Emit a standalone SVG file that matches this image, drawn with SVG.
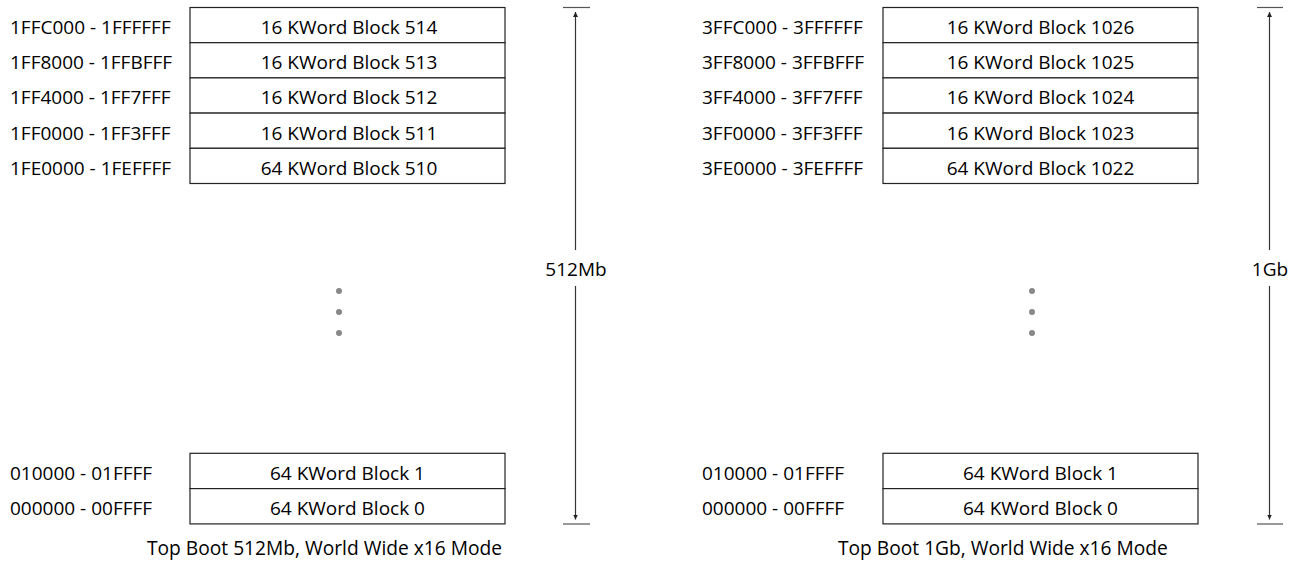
<svg xmlns="http://www.w3.org/2000/svg" width="1293" height="569" viewBox="0 0 1293 569">
  <style>
    text { font-family: "Open Sans", "Noto Sans", "Liberation Sans", sans-serif; font-size: 19px; fill: #000; }
    .c { text-anchor: middle; }
    .cap { font-size: 19.2px; }
    .box { fill: #fff; stroke: #222; stroke-width: 1.2; }
    .dim { stroke: #333; stroke-width: 1.2; fill: none; }
    .tick { stroke: #555; stroke-width: 1.2; }
    .dot { fill: #888; }
  </style>
  <defs>
    <marker id="ah" viewBox="0 0 10 10" refX="10" refY="5" markerWidth="5" markerHeight="9" orient="auto-start-reverse" markerUnits="userSpaceOnUse">
      <path d="M0,0 L10,5 L0,10 z" fill="#222"/>
    </marker>
  </defs>
  <rect width="1293" height="569" fill="#fff"/>

  <!-- Left map: 512Mb -->
  <g id="left-map">
    <g id="l-b514"><rect class="box" x="190" y="7.5" width="315" height="35.2"/><text x="10" y="34">1FFC000 - 1FFFFFF</text><text class="c" x="349" y="34">16 KWord Block 514</text></g>
    <g id="l-b513"><rect class="box" x="190" y="42.7" width="315" height="35.2"/><text x="10" y="69.2">1FF8000 - 1FFBFFF</text><text class="c" x="349" y="69.2">16 KWord Block 513</text></g>
    <g id="l-b512"><rect class="box" x="190" y="77.9" width="315" height="35.2"/><text x="10" y="104.4">1FF4000 - 1FF7FFF</text><text class="c" x="349" y="104.4">16 KWord Block 512</text></g>
    <g id="l-b511"><rect class="box" x="190" y="113.1" width="315" height="35.2"/><text x="10" y="139.6">1FF0000 - 1FF3FFF</text><text class="c" x="349" y="139.6">16 KWord Block 511</text></g>
    <g id="l-b510"><rect class="box" x="190" y="148.3" width="315" height="35.2"/><text x="10" y="174.8">1FE0000 - 1FEFFFF</text><text class="c" x="349" y="174.8">64 KWord Block 510</text></g>
    <g id="l-dots"><circle class="dot" cx="339" cy="291" r="3"/><circle class="dot" cx="339" cy="312" r="3"/><circle class="dot" cx="339" cy="333" r="3"/></g>
    <g id="l-b1"><rect class="box" x="190" y="453.3" width="315" height="35.3"/><text x="10" y="480">010000 - 01FFFF</text><text class="c" x="347.5" y="480">64 KWord Block 1</text></g>
    <g id="l-b0"><rect class="box" x="190" y="488.6" width="315" height="35.3"/><text x="10" y="515.3">000000 - 00FFFF</text><text class="c" x="347.5" y="515.3">64 KWord Block 0</text></g>
    <g id="l-size"><text class="c" x="576" y="276">512Mb</text></g>
    <text id="l-caption" class="cap" x="147" y="555">Top Boot 512Mb, World Wide x16 Mode</text>
  </g>

  <!-- Right map: 1Gb -->
  <g id="right-map">
    <g id="r-b1026"><rect class="box" x="883" y="7.5" width="315" height="35.2"/><text x="702" y="34">3FFC000 - 3FFFFFF</text><text class="c" x="1040.5" y="34">16 KWord Block 1026</text></g>
    <g id="r-b1025"><rect class="box" x="883" y="42.7" width="315" height="35.2"/><text x="702" y="69.2">3FF8000 - 3FFBFFF</text><text class="c" x="1040.5" y="69.2">16 KWord Block 1025</text></g>
    <g id="r-b1024"><rect class="box" x="883" y="77.9" width="315" height="35.2"/><text x="702" y="104.4">3FF4000 - 3FF7FFF</text><text class="c" x="1040.5" y="104.4">16 KWord Block 1024</text></g>
    <g id="r-b1023"><rect class="box" x="883" y="113.1" width="315" height="35.2"/><text x="702" y="139.6">3FF0000 - 3FF3FFF</text><text class="c" x="1040.5" y="139.6">16 KWord Block 1023</text></g>
    <g id="r-b1022"><rect class="box" x="883" y="148.3" width="315" height="35.2"/><text x="702" y="174.8">3FE0000 - 3FEFFFF</text><text class="c" x="1040.5" y="174.8">64 KWord Block 1022</text></g>
    <g id="r-dots"><circle class="dot" cx="1032" cy="291" r="3"/><circle class="dot" cx="1032" cy="312" r="3"/><circle class="dot" cx="1032" cy="333" r="3"/></g>
    <g id="r-b1"><rect class="box" x="883" y="453.3" width="315" height="35.3"/><text x="702" y="480">010000 - 01FFFF</text><text class="c" x="1040.5" y="480">64 KWord Block 1</text></g>
    <g id="r-b0"><rect class="box" x="883" y="488.6" width="315" height="35.3"/><text x="702" y="515.3">000000 - 00FFFF</text><text class="c" x="1040.5" y="515.3">64 KWord Block 0</text></g>
    <g id="r-size"><text class="c" x="1270" y="276">1Gb</text></g>
    <text id="r-caption" class="cap" x="838" y="555">Top Boot 1Gb, World Wide x16 Mode</text>
  </g>

  <!-- Dimension connectors -->
  <g id="connectors">
    <line class="tick" x1="563" y1="7.5" x2="590" y2="7.5"/>
    <line class="tick" x1="563" y1="524" x2="590" y2="524"/>
    <line class="dim" x1="575.5" y1="250" x2="575.5" y2="12" marker-end="url(#ah)"/>
    <line class="dim" x1="575.5" y1="286" x2="575.5" y2="519.5" marker-end="url(#ah)"/>
    <line class="tick" x1="1257" y1="7.5" x2="1283" y2="7.5"/>
    <line class="tick" x1="1257" y1="524" x2="1283" y2="524"/>
    <line class="dim" x1="1269.5" y1="250" x2="1269.5" y2="12" marker-end="url(#ah)"/>
    <line class="dim" x1="1269.5" y1="286" x2="1269.5" y2="519.5" marker-end="url(#ah)"/>
  </g>
</svg>
